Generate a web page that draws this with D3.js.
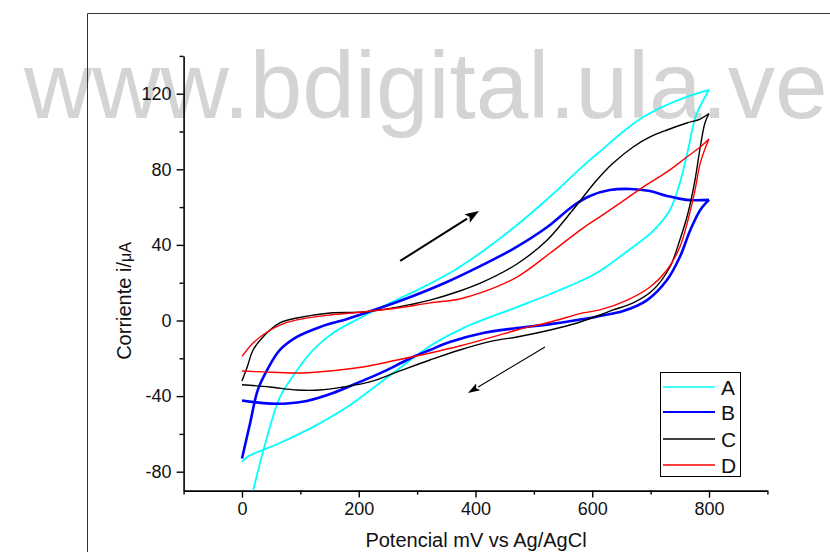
<!DOCTYPE html>
<html>
<head>
<meta charset="utf-8">
<script src="https://cdn.jsdelivr.net/npm/d3@7"></script>
<style>
  html, body { margin: 0; padding: 0; background: #fff; }
  svg { display: block; font-family: "Liberation Sans", Arial, sans-serif; }
</style>
</head>
<body>
<svg id="chart" width="830" height="552"></svg>
<script>
// Cyclic voltammograms: [potential mV, current µA] for the forward (0 -> 800 mV)
// and reverse (800 -> 0 mV) sweeps of each electrode.
const aForward = [[19,-90],[43,-61.6],[65,-40.5],[91,-27.8],[122,-15.6],[156,-6.6],[202,1.3],[254,9.3],[300,16.1],[356,25.1],[413,36.8],[471,50.5],[528,65.6],[584,81.7],[618,90.7],[648,98.7],[682,106.6],[716,112.4],[756,117.7],[800,122]];
const aReverse = [[800,122],[778,108.7],[764,90.2],[750,72.8],[733,58.5],[704,47.3],[665,37.8],[613,26.2],[584,21.4],[528,14],[471,7.1],[379,-4],[322,-13.5],[266,-26.2],[236,-33.1],[180,-45.8],[122,-56.3],[65,-64.8],[9,-72.2],[0,-74.9]];

const bForward = [[0,-73],[14,-54.2],[27,-36.8],[43,-26.2],[65,-15.6],[94,-8.7],[134,-3.4],[180,0.8],[236,6.6],[293,13],[351,20.4],[408,28.8],[464,37.8],[523,49.5],[567,60.6],[596,65.9],[630,69],[665,69.6],[699,68.5],[728,65.9],[762,63.8],[800,63.8]];
const bReverse = [[800,63.8],[785,58.5],[768,47.9],[750,33.6],[728,21.4],[694,10.8],[653,5],[613,2.4],[596,1.3],[528,-1.9],[471,-4],[413,-6.6],[356,-11.4],[322,-15.6],[293,-19.3],[266,-23.5],[236,-28],[202,-32.5],[156,-38.4],[111,-42.6],[77,-43.9],[36,-43.7],[0,-42.3]];

const cForward = [[0,-32],[9,-24.6],[19,-15.6],[36,-8.7],[65,-1.3],[94,1.3],[151,4],[207,4.5],[266,7.1],[322,10.8],[373,15.6],[413,20.4],[471,29.9],[523,42.6],[557,54.8],[579,63.2],[605,73.3],[634,82.8],[670,91.8],[699,97.1],[728,100.8],[762,104.5],[785,106.6],[800,109.5]];
const cReverse = [[800,109.5],[793,104.5],[785,91.8],[776,74.3],[764,56.9],[750,42.6],[733,28.3],[704,16.1],[670,9.3],[636,5.6],[613,2.9],[574,-1.3],[528,-5],[471,-8.7],[430,-10.8],[373,-15.6],[322,-20.9],[266,-27.2],[219,-32.5],[173,-35.2],[134,-36.8],[94,-36.8],[48,-35.2],[0,-34]];

const dForward = [[0,-19],[19,-11.9],[43,-6.1],[65,-2.4],[94,0.3],[151,2.9],[207,4.5],[266,6.6],[322,9.3],[373,11.4],[413,15.1],[471,23],[528,35.7],[584,48.9],[613,54.8],[648,62.2],[687,70.6],[728,78.6],[762,86.5],[785,91.8],[800,96]];
const dReverse = [[800,96],[797,93.9],[785,83.3],[776,69],[764,53.2],[750,38.9],[728,26.7],[699,17.7],[660,10.8],[613,5.6],[584,4],[528,-0.8],[471,-5],[430,-8.7],[373,-13.5],[322,-17.2],[266,-20.9],[207,-24.6],[151,-26.7],[94,-27.8],[36,-27.2],[0,-26.7]];

const seriesNames = ["A", "B", "C", "D"];
const seriesColors = ["#00ffff", "#0000ff", "#000000", "#ff0000"];
const seriesWidths = [1.8, 2.6, 1.4, 1.4];
const sweeps = [[aForward, aReverse], [bForward, bReverse], [cForward, cReverse], [dForward, dReverse]];

const xMajorTicks = [0, 200, 400, 600, 800];
const xMinorTicks = [-100, 100, 300, 500, 700, 900];
const yMajorTicks = [-80, -40, 0, 40, 80, 120];
const yMinorTicks = [-60, -20, 20, 60, 100, 140];

// Sweep direction arrows, in data units
const arrowUp = [[271, 31.5], [406, 57.9]];
const arrowDown = [[519, -14], [387, -38.4]];

const svg = d3.select("#chart");

// Light watermark behind the plot
svg.append("text")
  .attr("x", 24).attr("y", 118)
  .attr("font-size", 94.5)
  .attr("fill", "#d4d4d4")
  .text("www.bdigital.ula.ve");

// Outer frame (left and top edges visible)
svg.append("path")
  .attr("d", "M87.5,552 V13.5 H830")
  .attr("fill", "none").attr("stroke", "#333").attr("stroke-width", 1);

const x = d3.scaleLinear().domain([-100, 900]).range([183.6, 767.4]);
const y = d3.scaleLinear().domain([-90, 140]).range([490.6, 55.9]);

svg.append("defs").append("clipPath").attr("id", "plotClip")
  .append("rect")
  .attr("x", x(-100)).attr("y", y(140))
  .attr("width", x(900) - x(-100)).attr("height", y(-90) - y(140));

// Axes (plain hyphen for negative labels)
const tickFont = 18;
const fmt = d => String(d);
svg.append("g").attr("transform", `translate(0,${y(-90)})`)
  .call(d3.axisBottom(x).tickValues(xMajorTicks).tickSize(7).tickSizeOuter(0).tickPadding(5).tickFormat(fmt));
svg.append("g").attr("transform", `translate(0,${y(-90)})`)
  .call(d3.axisBottom(x).tickValues(xMinorTicks).tickSize(4).tickSizeOuter(0).tickFormat(""))
  .select(".domain").remove();
svg.append("g").attr("transform", `translate(${x(-100)},0)`)
  .call(d3.axisLeft(y).tickValues(yMajorTicks).tickSize(7).tickSizeOuter(0).tickPadding(5).tickFormat(fmt));
svg.append("g").attr("transform", `translate(${x(-100)},0)`)
  .call(d3.axisLeft(y).tickValues(yMinorTicks).tickSize(4).tickSizeOuter(0).tickFormat(""))
  .select(".domain").remove();

svg.selectAll(".domain").attr("stroke", "#000").attr("stroke-width", 1.6);
svg.selectAll(".tick line").attr("stroke", "#000").attr("stroke-width", 1.4);
svg.selectAll(".tick text").attr("font-size", tickFont).attr("fill", "#111")
  .attr("font-family", "'Liberation Sans', Arial, sans-serif");

// Axis titles
svg.append("text")
  .attr("x", 476).attr("y", 547)
  .attr("text-anchor", "middle").attr("font-size", 20).attr("fill", "#111")
  .text("Potencial mV vs Ag/AgCl");
const yTitle = svg.append("text")
  .attr("transform", "translate(131,301) rotate(-90)")
  .attr("text-anchor", "middle").attr("font-size", 20).attr("fill", "#111");
yTitle.append("tspan").text("Corriente i/");
yTitle.append("tspan").attr("font-size", 16).text("μA");

// Voltammograms
const line = d3.line().x(d => x(d[0])).y(d => y(d[1])).curve(d3.curveCatmullRom.alpha(0.5));
const plot = svg.append("g").attr("clip-path", "url(#plotClip)");
sweeps.forEach((s, i) => {
  plot.append("path")
    .attr("d", line(s[0]) + line(s[1]))
    .attr("fill", "none")
    .attr("stroke", seriesColors[i])
    .attr("stroke-width", seriesWidths[i])
    .attr("stroke-linejoin", "round");
});

// Direction arrows
function arrow(pts, width, headLen, headHalf) {
  const [x0, y0] = [x(pts[0][0]), y(pts[0][1])];
  const [x1, y1] = [x(pts[1][0]), y(pts[1][1])];
  const ang = Math.atan2(y1 - y0, x1 - x0);
  const bx = x1 - headLen * Math.cos(ang), by = y1 - headLen * Math.sin(ang);
  svg.append("line")
    .attr("x1", x0).attr("y1", y0).attr("x2", bx).attr("y2", by)
    .attr("stroke", "#000").attr("stroke-width", width);
  const px = -Math.sin(ang) * headHalf, py = Math.cos(ang) * headHalf;
  svg.append("path")
    .attr("d", `M${x1},${y1} L${bx + px},${by + py} L${bx + headLen * 0.2 * Math.cos(ang)},${by + headLen * 0.2 * Math.sin(ang)} L${bx - px},${by - py} Z`)
    .attr("fill", "#000");
}
arrow(arrowUp, 2, 14, 5);
arrow(arrowDown, 1.1, 12, 4);

// Legend
const legend = svg.append("g");
legend.append("rect")
  .attr("x", 660.5).attr("y", 372.5).attr("width", 80).attr("height", 104)
  .attr("fill", "#fff").attr("stroke", "#000").attr("stroke-width", 1);
const legendY = [387, 412, 439, 465];
seriesNames.forEach((n, i) => {
  legend.append("line")
    .attr("x1", 663).attr("x2", 715).attr("y1", legendY[i]).attr("y2", legendY[i])
    .attr("stroke", seriesColors[i]).attr("stroke-width", i === 1 ? 2 : 1.5);
  legend.append("text")
    .attr("x", 721).attr("y", legendY[i] + 7.5)
    .attr("font-size", 21).attr("fill", "#111")
    .text(n);
});
</script>
</body>
</html>
